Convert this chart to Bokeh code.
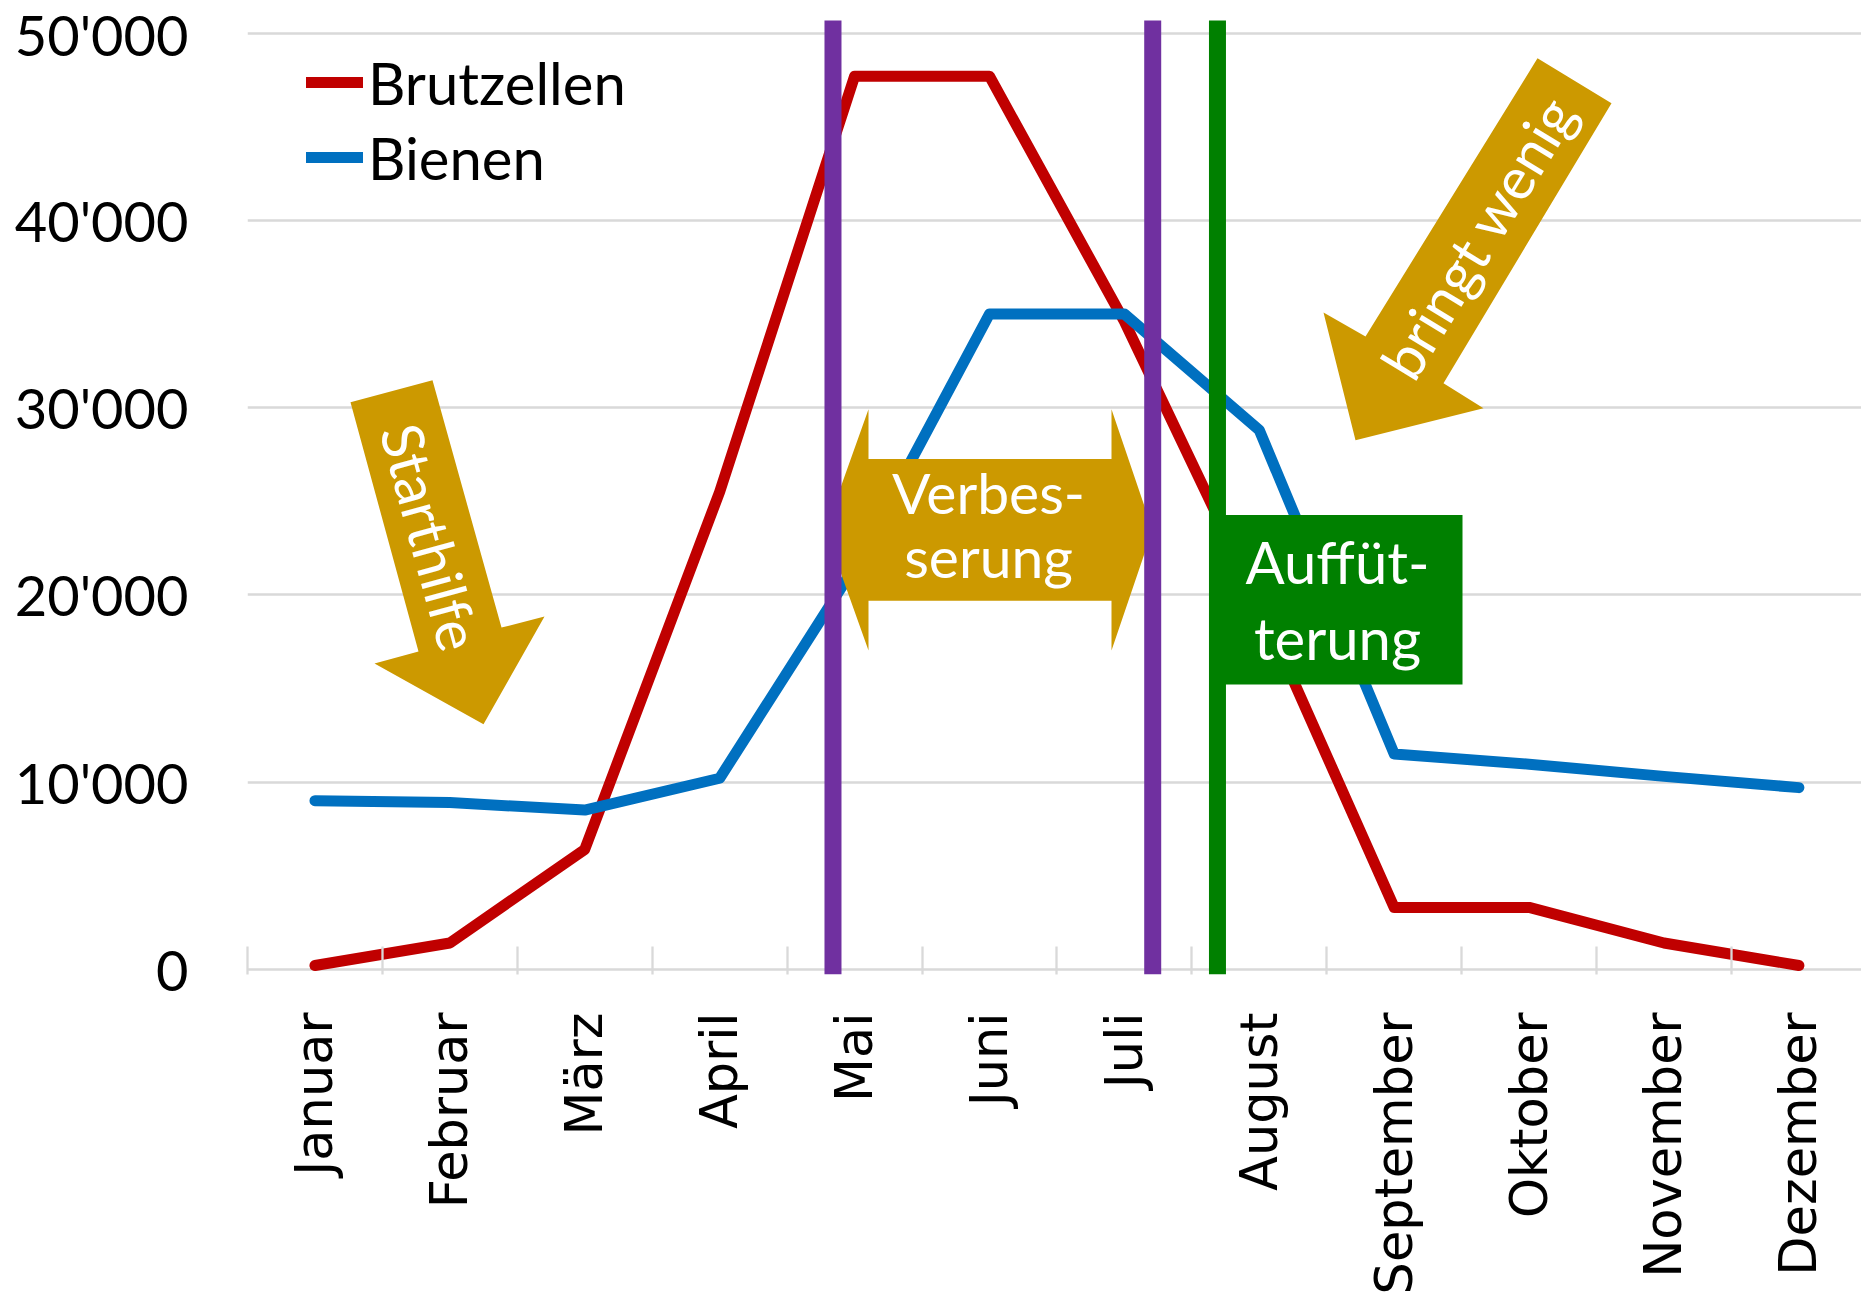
import math

from bokeh.core.properties import value
from bokeh.embed import file_html
from bokeh.models import ColumnDataSource, FixedTicker, Legend, LegendItem, Range1d
from bokeh.plotting import figure
from bokeh.resources import INLINE

# ---- data -------------------------------------------------------------
months = ["Januar", "Februar", "März", "April", "Mai", "Juni", "Juli",
          "August", "September", "Oktober", "November", "Dezember"]
brutzellen = [200, 1400, 6400, 25500, 47700, 47700, 34600, 19500, 3300, 3300, 1400, 200]
bienen = [9000, 8900, 8500, 10200, 21500, 35000, 35000, 28800, 11500, 10950, 10300, 9700]

y_ticks = [0, 10000, 20000, 30000, 40000, 50000]
y_tick_labels = ["0", "10'000", "20'000", "30'000", "40'000", "50'000"]

# vertical phase markers, in month units (0 = start of January)
phase_marks = [4.34, 6.71, 7.19]
phase_colors = ["#7030a0", "#7030a0", "#008000"]

RED, BLUE, GOLD, GREEN = "#c00000", "#0070c0", "#cc9900", "#008000"
CALIBRI_LIKE = "Lato"

# ---- figure -----------------------------------------------------------
W, H = 1861, 1297
BORDER_L, BORDER_T, BORDER_B, BORDER_R = 247, 15, 320, 0
FRAME_W, FRAME_H = W - BORDER_L - BORDER_R, H - BORDER_T - BORDER_B

x_range = Range1d(0, 11.964)
y_range = Range1d(-282, 50943)

p = figure(width=W, height=H, x_range=x_range, y_range=y_range,
           output_backend="svg", toolbar_location=None,
           min_border_left=BORDER_L, min_border_right=BORDER_R,
           min_border_top=BORDER_T, min_border_bottom=BORDER_B,
           outline_line_color=None, background_fill_color="white",
           border_fill_color="white")


def to_data(px, py):
    """Canvas pixel position -> data coordinates (used for the call-out shapes)."""
    x = x_range.start + (px - BORDER_L) / FRAME_W * (x_range.end - x_range.start)
    y = y_range.end - (py - BORDER_T) / FRAME_H * (y_range.end - y_range.start)
    return x, y


# ---- axes & grid ------------------------------------------------------
centers = [i + 0.5 for i in range(len(months))]

xa = p.xaxis[0]
xa.ticker = FixedTicker(ticks=centers, minor_ticks=list(range(len(months) + 1)))
xa.major_label_overrides = {c: m for c, m in zip(centers, months)}
xa.major_label_orientation = math.pi / 2
xa.major_label_text_font = "DejaVu Sans"
xa.major_label_text_font_size = "51px"
xa.major_label_text_color = "black"
xa.major_label_standoff = 32
xa.axis_line_color = None
xa.major_tick_line_color = None
xa.minor_tick_line_color = "#d9d9d9"
xa.minor_tick_line_width = 2.3
xa.minor_tick_in = 28
xa.minor_tick_out = 0

ya = p.yaxis[0]
ya.ticker = FixedTicker(ticks=y_ticks, minor_ticks=[])
ya.major_label_overrides = {t: s for t, s in zip(y_ticks, y_tick_labels)}
ya.major_label_text_font = CALIBRI_LIKE
ya.major_label_text_font_size = "56px"
ya.major_label_text_color = "black"
ya.major_label_standoff = 53
ya.axis_line_color = None
ya.major_tick_line_color = None
ya.minor_tick_line_color = None

p.xgrid.visible = False
p.ygrid.ticker = FixedTicker(ticks=y_ticks, minor_ticks=[])
p.ygrid.grid_line_color = "#d9d9d9"
p.ygrid.grid_line_width = 2.3

# ---- series -----------------------------------------------------------
src = ColumnDataSource(dict(x=centers, brut=brutzellen, bien=bienen))
r_brut = p.line("x", "brut", source=src, line_color=RED, line_width=11,
                line_join="round", line_cap="round")
r_bien = p.line("x", "bien", source=src, line_color=BLUE, line_width=11,
                line_join="round", line_cap="round")

# ---- call-out shapes --------------------------------------------------
shapes_px = {
    "start": [(350, 403), (432, 381), (501, 629), (544, 618), (483, 726), (374, 665), (418, 653)],
    "wenig": [(1537, 58), (1611, 103), (1443, 384), (1483, 409), (1355, 441), (1323, 313), (1365, 337)],
    "verbes": [(825, 531), (868, 410), (868, 460), (1111, 460), (1111, 410), (1152, 531),
               (1111, 652), (1111, 602), (868, 602), (868, 652)],
}
for pts in shapes_px.values():
    d = [to_data(*pt) for pt in pts]
    p.patch([a for a, _ in d], [b for _, b in d], fill_color=GOLD, line_color=None)

bx0, by0 = to_data(1210, 516)
bx1, by1 = to_data(1462, 686)
p.quad(left=bx0, right=bx1, top=by0, bottom=by1, fill_color=GREEN, line_color=None)


def add_text(texts, pts, size, angle=0.0, baseline="alphabetic"):
    d = [to_data(*pt) for pt in pts]
    s = ColumnDataSource(dict(x=[a for a, _ in d], y=[b for _, b in d], t=texts))
    p.text("x", "y", text="t", source=s, angle=angle, text_color="white",
           text_font=value(CALIBRI_LIKE), text_font_size=size,
           text_align="center", text_baseline=baseline)


add_text(["Verbes-", "serung"], [(988, 493), (988, 557)], "57px")
add_text(["Auffüt-", "terung"], [(1337, 563), (1337, 639)], "58px")
add_text(["Starthilfe"], [(431, 538)], "58px", angle=math.radians(-74.7), baseline="middle")
add_text(["bringt wenig"], [(1477, 237)], "58px", angle=math.radians(58.7), baseline="middle")

# ---- vertical phase markers --------------------------------------------
_, top_val = to_data(0, 20)
p.segment(x0=phase_marks, x1=phase_marks, y0=[y_range.start] * 3, y1=[top_val] * 3,
          line_color=phase_colors, line_width=17, line_cap="butt")

# ---- legend -----------------------------------------------------------
legend = Legend(
    items=[LegendItem(label="Brutzellen", renderers=[r_brut]),
           LegendItem(label="Bienen", renderers=[r_bien])],
    location=(59, 782), orientation="vertical", padding=0, margin=0, spacing=5,
    glyph_width=57, glyph_height=70, label_height=70, label_standoff=5,
    label_text_font=CALIBRI_LIKE, label_text_font_size="58px",
    label_text_color="black", border_line_color=None, background_fill_alpha=0,
)
p.add_layout(legend)

open("out.html", "w").write(file_html(p, INLINE))
